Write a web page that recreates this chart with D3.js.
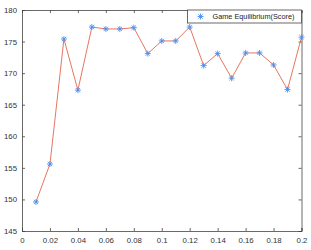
<!DOCTYPE html>
<html>
<head>
<meta charset="utf-8">
<script src="https://cdn.jsdelivr.net/npm/d3@7"></script>
<style>
  body { margin: 0; background: #fff; }
  svg { display: block; font-family: 'Liberation Sans', Arial, sans-serif; }
  .axis text { fill: #333; font-size: 7.8px; }
  .axis path, .axis line { stroke: #444; stroke-width: 0.8; }
</style>
</head>
<body>
<div id="chart"></div>
<script>
const xValues = [0.01, 0.02, 0.03, 0.04, 0.05, 0.06, 0.07, 0.08, 0.09, 0.10,
  0.11, 0.12, 0.13, 0.14, 0.15, 0.16, 0.17, 0.18, 0.19, 0.20];
const scores = [149.6, 155.6, 175.4, 167.3, 177.3, 177.0, 177.0, 177.2, 173.1, 175.1,
  175.1, 177.3, 171.2, 173.1, 169.2, 173.2, 173.2, 171.3, 167.4, 175.7];
const xTicks = [0, 0.02, 0.04, 0.06, 0.08, 0.1, 0.12, 0.14, 0.16, 0.18, 0.2];
const yTicks = [145, 150, 155, 160, 165, 170, 175, 180];
const seriesName = 'Game Equilibrium(Score)';

const width = 311, height = 250;
const margin = { top: 10, right: 9.5, bottom: 19, left: 22 };
const innerW = width - margin.left - margin.right;
const innerH = height - margin.top - margin.bottom;

const svg = d3.select('#chart').append('svg')
  .attr('width', width).attr('height', height);
const g = svg.append('g').attr('transform', `translate(${margin.left},${margin.top})`);

const x = d3.scaleLinear().domain([0, 0.2]).range([0, innerW]);
const y = d3.scaleLinear().domain([145, 180]).range([innerH, 0]);

const fmtX = d => d === 0 ? '0' : String(+d.toFixed(2));

g.append('g').attr('class', 'axis')
  .attr('transform', `translate(0,${innerH})`)
  .call(d3.axisBottom(x).tickValues(xTicks).tickSize(-3).tickPadding(6).tickFormat(fmtX));
g.append('g').attr('class', 'axis')
  .call(d3.axisTop(x).tickValues(xTicks).tickSize(-3).tickFormat(''));
g.append('g').attr('class', 'axis')
  .call(d3.axisLeft(y).tickValues(yTicks).tickSize(-3).tickPadding(5));
g.append('g').attr('class', 'axis')
  .attr('transform', `translate(${innerW},0)`)
  .call(d3.axisRight(y).tickValues(yTicks).tickSize(-3).tickFormat(''));

const pts = xValues.map((v, i) => [v, scores[i]]);

g.append('path')
  .datum(pts)
  .attr('fill', 'none')
  .attr('stroke', '#e2674f')
  .attr('stroke-width', 0.9)
  .attr('d', d3.line().x(d => x(d[0])).y(d => y(d[1])));

function star(sel, r) {
  const a = r * 0.72;
  sel.append('path')
    .attr('d', `M${-r},0H${r}M0,${-r}V${r}M${-a},${-a}L${a},${a}M${-a},${a}L${a},${-a}`)
    .attr('stroke', '#4a8ef0')
    .attr('stroke-width', 0.9)
    .attr('fill', 'none');
}

g.selectAll('g.mk').data(pts).join('g')
  .attr('class', 'mk')
  .attr('transform', d => `translate(${x(d[0])},${y(d[1])})`)
  .call(star, 3);

// legend
const lg = g.append('g').attr('transform', `translate(${innerW - 114},0)`);
lg.append('rect')
  .attr('width', 114).attr('height', 13)
  .attr('fill', '#fff').attr('stroke', '#444').attr('stroke-width', 0.8);
lg.append('g').attr('transform', 'translate(13,6.5)').call(star, 3);
lg.append('text')
  .attr('x', 25).attr('y', 9.3)
  .attr('font-size', 7.3).attr('fill', '#222')
  .text(seriesName);
</script>
</body>
</html>
